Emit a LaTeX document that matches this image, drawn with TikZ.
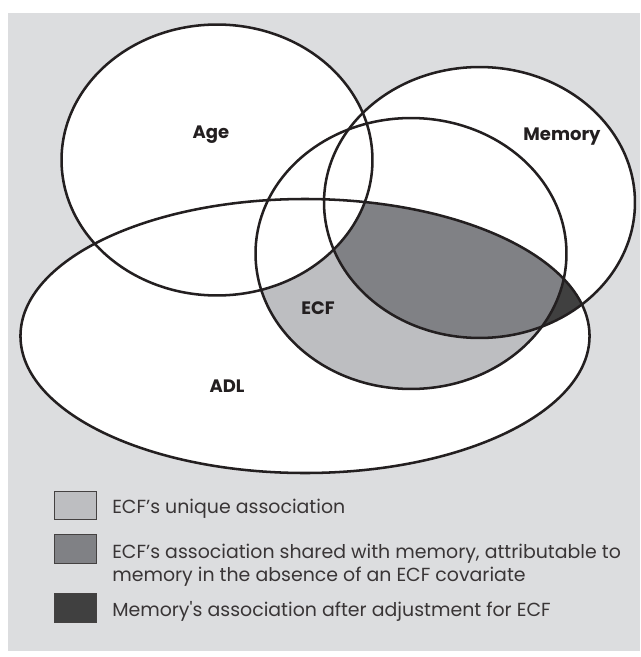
\documentclass[tikz,border=0pt]{standalone}
\usepackage{fontspec}
\setmainfont{Poppins}
\definecolor{bgc}{HTML}{DCDDDF}
\definecolor{lightc}{HTML}{BDBEC1}
\definecolor{midc}{HTML}{808185}
\definecolor{darkc}{HTML}{404040}
\definecolor{inkc}{HTML}{231F20}
\begin{document}
\begin{tikzpicture}[x=0.75pt,y=-0.75pt,
  venn/.style={draw=inkc,line width=1.9pt},
  lbl/.style={font=\bfseries\fontsize{13.5}{16}\selectfont,text=inkc,inner sep=0pt},
  keybox/.style={draw=inkc!85,line width=0.9pt,minimum width=32pt,minimum height=21.5pt,inner sep=0pt},
  keytext/.style={font=\fontsize{14.2}{17}\selectfont,text=inkc!90,anchor=base west,inner sep=0pt}]
\def\ADL{(305,336) ellipse [x radius=213.4pt, y radius=102.75pt]}
\def\AGE{(217,160) ellipse [x radius=116.6pt, y radius=101.6pt]}
\def\MEM{(479.5,202.5) ellipse [x radius=116.6pt, y radius=101.6pt]}
\def\ECF{(411,253.5) ellipse [x radius=116.6pt, y radius=101.6pt]}
\useasboundingbox (0,0) rectangle (640,657);
\fill[white] (0,0) rectangle (640,657);
\fill[bgc] (8,13) rectangle (640,651);
% white sets
\fill[white] \ADL;
\fill[white] \AGE;
\fill[white] \MEM;
\fill[white] \ECF;
% ECF unique (light)
\begin{scope}
  \clip \ADL;
  \clip \ECF;
  \fill[lightc] \ECF;
\end{scope}
% memory after adjustment (dark) and shared (mid)
\begin{scope}
  \clip \ADL;
  \clip \MEM;
  \fill[darkc] \MEM;
  \clip \ECF;
  \fill[midc] \ECF;
\end{scope}
% remove age
\begin{scope}
  \clip \ADL;
  \fill[white] \AGE;
\end{scope}
% outlines
\draw[venn] \ADL;
\draw[venn] \AGE;
\draw[venn] \MEM;
\draw[venn] \ECF;
% labels
\node[lbl] (age) at (211,135) {Age};
\node[lbl] (mem) at (562,137) {Memory};
\node[lbl] (ecf) at (318,308) {ECF};
\node[lbl] (adl) at (227,386) {ADL};
% legend
\node[keybox,fill=lightc] (k1) at (75.5,505.5) {};
\node[keybox,fill=midc] (k2) at (75.5,549) {};
\node[keybox,fill=darkc] (k3) at (75.5,608) {};
\node[keytext] (t1) at (112,513) {ECF’s unique association};
\node[keytext] (t2a) at (112,558) {ECF’s association shared with memory, attributable to};
\node[keytext] (t2b) at (112,581) {memory in the absence of an ECF covariate};
\node[keytext] (t3) at (112,616) {Memory\textquotesingle s association after adjustment for ECF};
\end{tikzpicture}
\end{document}
